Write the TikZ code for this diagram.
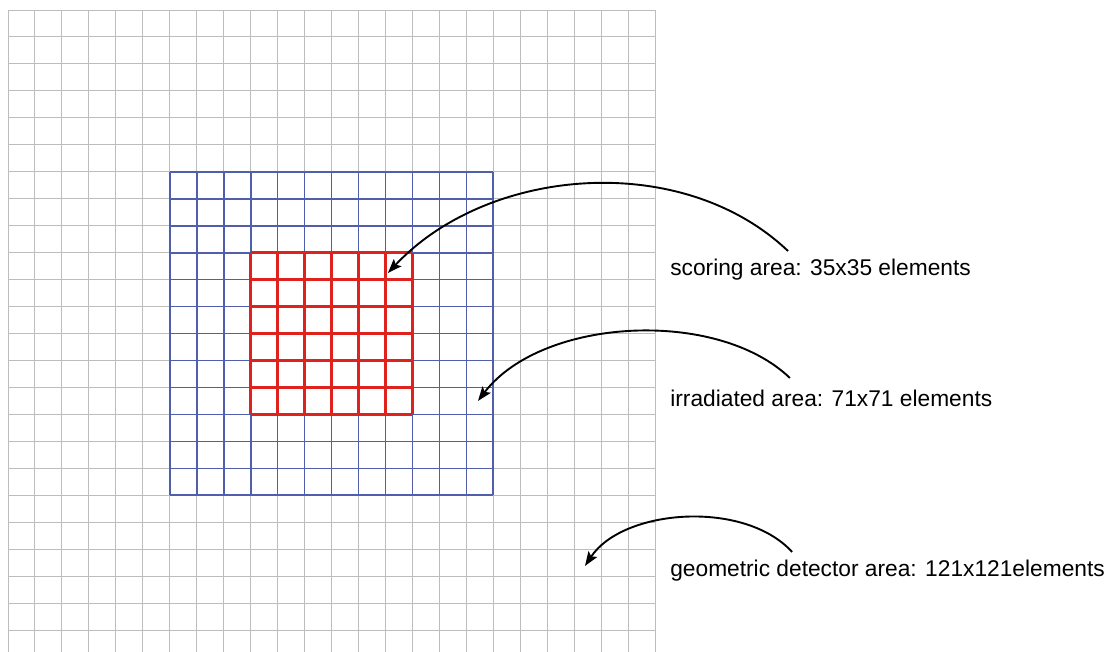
\documentclass[tikz,border=0pt]{standalone}
\usepackage{tikz}
\usetikzlibrary{positioning, arrows.meta, calc}
\usepackage{fontspec}
\setmainfont{Liberation Sans}
\usepackage{xcolor}
\definecolor{detgray}{HTML}{BDBDBD}
\definecolor{irrblue}{HTML}{4F5FAE}
\definecolor{scorered}{HTML}{E0221F}

\begin{document}
\begin{tikzpicture}[x=0.5cm, y=0.5cm,
    areanote/.style={anchor=base west, font=\fontsize{12}{14}\selectfont, inner sep=0pt},
    pointer/.style={line width=1pt, -{Stealth[length=7.5pt, width=5.5pt, inset=1.5pt]}}]
        \useasboundingbox (-0.297,0.19) rectangle (40.76,24.371);
        % detector, irradiated and scoring grids
        \draw[detgray, line width=0.5pt, step=1] (0,0.19) grid (24,24);
        \draw[irrblue, line width=0.9pt, step=1] (6,6) grid (18,18);
        \draw[scorered, line width=1.6pt, step=1] (9,9) grid (15,15);

        \node[areanote] (scorelbl) at (24.55,14.14) {scoring area: 35x35 elements};
        \node[areanote] (irrlbl) at (24.55,9.29) {irradiated area: 71x71 elements};
        \node[areanote] (detlbl) at (24.55,2.98) {geometric detector area: 121x121elements};

        \coordinate (scorefrom) at (28.93,15.06);
        \coordinate (scoretip) at (14.09,14.245);
        \coordinate (irrfrom) at (29.0,10.35);
        \coordinate (irrtip) at (17.43,9.5);
        \coordinate (detfrom) at (29.08,3.9);
        \coordinate (dettip) at (21.4,3.38);

        \draw[pointer] (scorefrom) .. controls (25,18.8) and (17.8,18.2) .. (scoretip);
        \draw[pointer] (irrfrom) .. controls (26.3,12.95) and (19.8,12.6) .. (irrtip);
        \draw[pointer] (detfrom) .. controls (27.3,5.85) and (22.8,5.5) .. (dettip);
      \end{tikzpicture}
\end{document}
